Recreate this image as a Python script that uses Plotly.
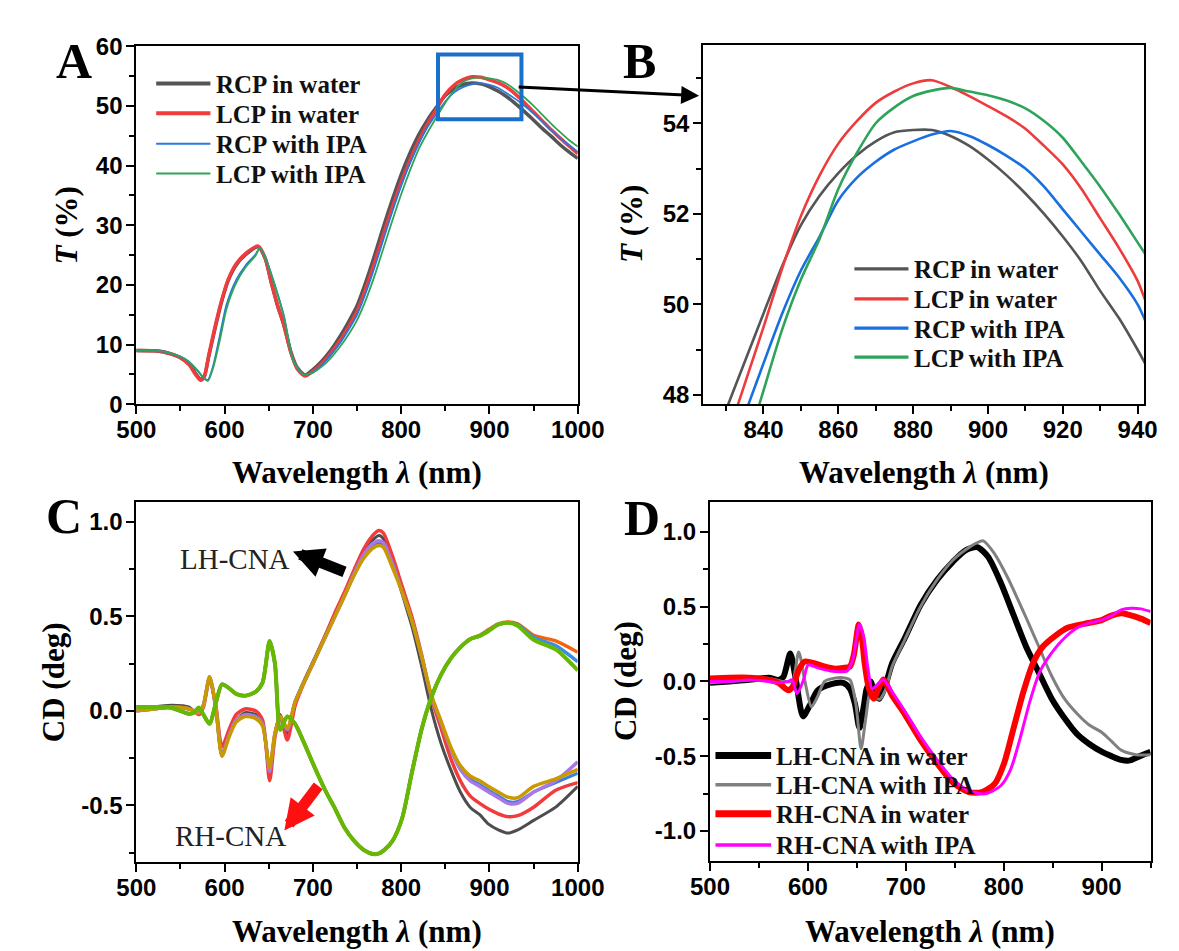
import plotly.graph_objects as go

W, H = 1179, 951

# ---------------- Panel A : transmission spectra ----------------
wl_a_water = [500, 520, 530, 540, 550, 560, 567, 573, 577, 582, 590, 597, 604, 613, 624, 638, 646, 653, 660, 667,
              675, 682, 691, 700, 710, 720, 730, 740, 750, 760, 770, 780, 790, 800, 810, 820, 830, 840, 850, 860,
              870, 880, 890, 900, 910, 920, 930, 940, 950, 960, 970, 980, 990, 1000]
rcp_water_a = [9.0, 8.95, 8.8, 8.4, 7.8, 6.7, 5.2, 4.2, 4.7, 8.0, 13.2, 17.4, 20.7, 23.3, 25.1, 26.4, 24.4, 20.3, 16.5, 13.3,
               8.8, 6.2, 4.9, 5.8, 7.2, 9.0, 11.2, 13.7, 16.5, 20.5, 25.0, 29.8, 34.3, 38.5, 42.1, 45.2, 47.7, 49.8, 51.75, 52.9,
               53.6, 53.85, 53.7, 53.2, 52.45, 51.5, 50.3, 49.0, 47.6, 46.2, 44.9, 43.5, 42.3, 41.2]
lcp_water_a = [9.0, 8.95, 8.8, 8.4, 7.8, 6.6, 5.0, 4.0, 4.6, 8.2, 13.5, 17.6, 20.9, 23.5, 25.3, 26.5, 24.5, 20.4, 16.6, 13.4,
               8.7, 6.0, 4.75, 5.5, 6.8, 8.5, 10.5, 12.9, 15.6, 19.4, 23.8, 28.5, 33.0, 37.2, 40.9, 44.2, 47.0, 49.5, 51.95, 53.5,
               54.4, 54.88, 54.8, 54.38, 53.88, 53.09, 51.9, 50.5, 49.0, 47.5, 46.0, 44.6, 43.3, 42.0]
wl_a_ipa = [500, 520, 530, 540, 550, 559, 570, 576, 581, 587, 595, 602, 613, 624, 635, 640, 648, 656, 667, 678,
            689, 700, 710, 720, 730, 740, 750, 760, 770, 780, 790, 800, 810, 820, 830, 840, 850, 860, 870, 880,
            890, 900, 910, 920, 930, 940, 950, 960, 970, 980, 990, 1000]
rcp_ipa_a = [9.0, 8.95, 8.85, 8.5, 8.0, 7.2, 5.5, 4.4, 4.1, 6.4, 11.8, 16.6, 20.8, 23.3, 25.1, 26.2, 23.9, 20.4, 14.9, 7.4,
             5.0, 5.4, 6.6, 8.2, 10.1, 12.4, 15.0, 18.7, 23.0, 27.7, 32.3, 36.6, 40.4, 43.7, 46.5, 48.7, 50.75, 52.3, 53.15, 53.6,
             53.83, 53.52, 53.0, 52.1, 51.1, 50.0, 48.7, 47.3, 45.9, 44.6, 43.4, 42.3]
lcp_ipa_a = [9.0, 8.95, 8.85, 8.5, 8.0, 7.2, 5.55, 4.5, 3.9, 6.1, 11.0, 15.9, 20.3, 23.0, 24.9, 26.2, 23.8, 20.3, 14.8, 7.2,
             5.0, 5.3, 6.3, 7.7, 9.5, 11.6, 14.1, 17.5, 21.6, 26.2, 30.8, 35.2, 39.2, 42.8, 45.6, 48.1, 50.55, 52.55, 54.0, 54.6,
             54.78, 54.62, 54.33, 53.68, 52.6, 51.37, 50.0, 48.5, 47.0, 45.6, 44.3, 43.2]

# ---------------- Panel B : zoom of the peak ----------------
wl_b = [828, 832, 836, 840, 845, 850, 855, 860, 865, 870, 875, 880, 885, 890, 895, 900, 905, 910, 915, 920,
        925, 930, 935, 940, 942]
rcp_water_b = [47.25, 48.1, 48.95, 49.8, 50.85, 51.75, 52.4, 52.9, 53.3, 53.6, 53.8, 53.85, 53.85, 53.72, 53.5, 53.2, 52.85,
               52.45, 52.0, 51.5, 50.95, 50.3, 49.7, 49.0, 48.7]
lcp_water_b = [46.5, 47.5, 48.5, 49.5, 50.8, 51.95, 52.85, 53.55, 54.05, 54.45, 54.7, 54.88, 54.95, 54.8, 54.6, 54.38, 54.15,
               53.88, 53.5, 53.09, 52.55, 51.9, 51.25, 50.52, 50.1]
rcp_ipa_b = [46.0, 46.9, 47.8, 48.7, 49.8, 50.75, 51.5, 52.3, 52.8, 53.15, 53.42, 53.6, 53.75, 53.83, 53.72, 53.52, 53.28,
             53.0, 52.6, 52.1, 51.6, 51.1, 50.6, 50.0, 49.65]
lcp_ipa_b = [45.0, 46.0, 47.0, 48.1, 49.45, 50.55, 51.45, 52.55, 53.35, 54.0, 54.35, 54.6, 54.72, 54.78, 54.7, 54.62, 54.5,
             54.33, 54.05, 53.68, 53.15, 52.6, 52.0, 51.37, 51.12]

# ---------------- Panel C : CD spectra of many samples ----------------
wl_c = [500, 520, 540, 560, 565, 571, 576, 583, 590, 597, 605, 613, 623, 635, 643, 651, 657, 663, 671, 680,
        690, 703, 715, 725, 736, 747, 758, 769, 775, 780, 790, 801, 812, 823, 834, 845, 856, 867, 878, 889,
        899, 910, 921, 932, 950, 975, 1000]
lh_gray_c = [0.0, 0.02, 0.03, 0.02, 0.0, -0.01, 0.03, 0.17, 0.01, -0.23, -0.13, -0.05, -0.01, -0.02, -0.07, -0.33, -0.12,
             -0.02, -0.12, 0.05, 0.16, 0.29, 0.41, 0.51, 0.62, 0.74, 0.84, 0.91, 0.928, 0.91, 0.80, 0.62, 0.45, 0.24,
             0.01, -0.17, -0.31, -0.43, -0.51, -0.55, -0.60, -0.63, -0.647, -0.63, -0.58, -0.51, -0.40]
lh_red_c = [0.0, 0.01, 0.02, 0.01, 0.0, -0.02, 0.02, 0.17, 0.03, -0.19, -0.10, -0.02, 0.01, 0.0, -0.05, -0.37, -0.14,
            -0.03, -0.155, 0.03, 0.15, 0.28, 0.41, 0.52, 0.63, 0.75, 0.86, 0.935, 0.955, 0.94, 0.82, 0.66, 0.50, 0.30,
            0.07, -0.09, -0.25, -0.37, -0.45, -0.49, -0.52, -0.545, -0.56, -0.555, -0.51, -0.42, -0.38]
lh_blue_c = [0.0, 0.01, 0.02, 0.01, 0.0, -0.01, 0.03, 0.18, 0.02, -0.24, -0.13, -0.05, -0.02, -0.03, -0.07, -0.31, -0.12,
             -0.03, -0.10, 0.05, 0.15, 0.28, 0.40, 0.50, 0.61, 0.72, 0.82, 0.88, 0.89, 0.88, 0.78, 0.63, 0.48, 0.29,
             0.08, -0.06, -0.20, -0.31, -0.36, -0.39, -0.42, -0.45, -0.48, -0.48, -0.43, -0.38, -0.33]
lh_purple_c = [0.0, 0.01, 0.02, 0.01, 0.0, -0.01, 0.03, 0.18, 0.02, -0.23, -0.13, -0.05, -0.02, -0.03, -0.07, -0.32, -0.12,
               -0.03, -0.10, 0.05, 0.15, 0.28, 0.40, 0.50, 0.61, 0.73, 0.83, 0.89, 0.90, 0.89, 0.78, 0.63, 0.48, 0.29,
               0.08, -0.06, -0.20, -0.31, -0.37, -0.40, -0.43, -0.46, -0.49, -0.49, -0.43, -0.37, -0.27]
lh_gold_c = [0.0, 0.01, 0.02, 0.01, 0.0, -0.01, 0.03, 0.18, 0.02, -0.24, -0.14, -0.06, -0.03, -0.04, -0.08, -0.30, -0.12,
             -0.03, -0.09, 0.05, 0.15, 0.28, 0.40, 0.50, 0.61, 0.72, 0.81, 0.865, 0.875, 0.865, 0.76, 0.63, 0.48, 0.29,
             0.086, -0.052, -0.19, -0.29, -0.345, -0.37, -0.40, -0.43, -0.457, -0.46, -0.40, -0.36, -0.31]
rh_orange_c = [0.02, 0.02, 0.015, -0.016, -0.01, 0.017, -0.02, -0.069, 0.04, 0.14, 0.12, 0.09, 0.08, 0.10, 0.15, 0.37, 0.25,
               -0.10, -0.03, -0.07, -0.17, -0.31, -0.43, -0.517, -0.62, -0.69, -0.738, -0.759, -0.755, -0.74, -0.69,
               -0.57, -0.33, -0.10, 0.069, 0.19, 0.276, 0.336, 0.38, 0.40, 0.43, 0.46, 0.47, 0.46, 0.40, 0.37, 0.31]
rh_blue_c = [0.02, 0.02, 0.015, -0.016, -0.01, 0.017, -0.02, -0.069, 0.04, 0.14, 0.12, 0.09, 0.08, 0.10, 0.15, 0.37, 0.25,
             -0.10, -0.03, -0.07, -0.17, -0.31, -0.43, -0.517, -0.62, -0.69, -0.738, -0.759, -0.755, -0.74, -0.69,
             -0.57, -0.33, -0.10, 0.069, 0.19, 0.276, 0.336, 0.379, 0.397, 0.425, 0.457, 0.466, 0.455, 0.39, 0.345, 0.26]
rh_green_c = [0.02, 0.02, 0.015, -0.016, -0.01, 0.017, -0.02, -0.069, 0.04, 0.14, 0.12, 0.09, 0.08, 0.10, 0.15, 0.37, 0.25,
              -0.10, -0.03, -0.07, -0.17, -0.31, -0.43, -0.517, -0.62, -0.69, -0.738, -0.759, -0.755, -0.74, -0.69,
              -0.57, -0.33, -0.10, 0.069, 0.19, 0.276, 0.336, 0.379, 0.397, 0.423, 0.457, 0.466, 0.45, 0.376, 0.325, 0.214]

# ---------------- Panel D : CD in water / with IPA ----------------
wl_d_lh_water = [500, 520, 540, 560, 570, 575, 582, 588, 595, 602, 610, 623, 636, 643, 648, 652.6, 657, 660, 664, 668,
                 673, 679, 686, 699, 715, 732, 748, 761, 773, 784, 797, 810, 823, 836, 849, 862, 875, 887, 900, 910,
                 920, 928, 939, 950]
cd_lh_water = [-0.01, 0.0, 0.01, 0.025, 0.01, 0.03, 0.186, 0.0, -0.234, -0.16, -0.06, -0.02, -0.01, -0.05, -0.15, -0.31,
               -0.17, -0.05, 0.0, -0.08, -0.116, -0.03, 0.12, 0.29, 0.51, 0.68, 0.80, 0.877, 0.898, 0.834, 0.66, 0.445,
               0.23, 0.057, -0.116, -0.245, -0.353, -0.417, -0.47, -0.50, -0.525, -0.53, -0.50, -0.47]
wl_d_lh_ipa = [500, 520, 540, 560, 575, 584, 590.6, 597, 603.6, 610, 617, 626, 636, 643, 649, 654.3, 659, 664, 668, 673,
               679, 686, 699, 715, 732, 748, 761, 772, 779, 790, 803.6, 823, 836, 849, 862, 875.5, 887, 900, 910, 920,
               935, 950]
cd_lh_ipa = [-0.01, 0.0, 0.01, 0.02, 0.0, 0.0, 0.197, 0.0, -0.17, -0.10, 0.0, 0.02, 0.025, 0.01, -0.15, -0.45, -0.25,
             -0.05, -0.10, -0.12, -0.06, 0.10, 0.28, 0.50, 0.68, 0.81, 0.88, 0.925, 0.94, 0.86, 0.70, 0.424, 0.23,
             0.036, -0.116, -0.22, -0.29, -0.34, -0.40, -0.46, -0.49, -0.49]
wl_d_rh_water = [500, 520, 540, 560, 570, 580, 585, 590.6, 597, 607, 616.7, 628, 636, 643, 647, 652, 655, 658, 662.4, 667.3,
                 672, 677, 686, 699, 715.4, 731.8, 748, 764.4, 777.5, 790.6, 800.4, 810.2, 820, 829.8, 839.6, 852.6,
                 865.7, 882, 890, 900, 910, 920, 928, 940, 950]
cd_rh_water = [0.02, 0.025, 0.025, 0.01, -0.01, -0.06, -0.03, 0.078, 0.133, 0.12, 0.10, 0.085, 0.09, 0.10, 0.18, 0.38,
               0.30, 0.12, -0.05, -0.116, -0.05, 0.013, -0.094, -0.22, -0.396, -0.547, -0.676, -0.741, -0.741, -0.687,
               -0.547, -0.31, -0.072, 0.12, 0.23, 0.305, 0.36, 0.385, 0.395, 0.41, 0.44, 0.456, 0.445, 0.42, 0.39]
wl_d_rh_ipa = [500, 520, 540, 560, 570, 580, 584, 588.9, 595, 600.4, 610, 623, 632, 640, 646, 652.6, 657, 661, 665.7, 671,
               677, 686, 699, 715, 732, 748, 764, 780.8, 797, 807, 817, 826.6, 836.4, 846.2, 859.3, 875.5, 887, 900,
               910, 920, 930, 940, 950]
cd_rh_ipa = [0.0, 0.0, 0.01, 0.0, -0.01, 0.0, 0.01, -0.083, 0.0, 0.11, 0.09, 0.07, 0.065, 0.07, 0.15, 0.38, 0.30, 0.10,
             -0.05, -0.02, 0.013, -0.07, -0.2, -0.37, -0.525, -0.654, -0.73, -0.752, -0.698, -0.59, -0.375, -0.137,
             0.057, 0.165, 0.272, 0.36, 0.39, 0.41, 0.44, 0.478, 0.489, 0.485, 0.467]

# tick labels
cd_c_tickvals = [-0.5, 0.0, 0.5, 1.0]
cd_c_ticktext = ["-0.5", "0.0", "0.5", "1.0"]
cd_d_tickvals = [-1.0, -0.5, 0.0, 0.5, 1.0]
cd_d_ticktext = ["-1.0", "-0.5", "0.0", "0.5", "1.0"]

# legend labels
legend_ab = ["RCP in water", "LCP in water", "RCP with IPA", "LCP with IPA"]
legend_d = ["LH-CNA in water", "LH-CNA with IPA", "RH-CNA in water", "RH-CNA with IPA"]

# ---------------- styling ----------------
TICK_FONT = "Liberation Sans, Arial, sans-serif"
SERIF = "Liberation Serif, Times New Roman, serif"


def px(x):
    return x / W


def py(y):
    return 1 - y / H


def axis(domain, rng, dtick, minor, tick0=0, xaxis=False, **kw):
    d = dict(domain=domain, range=rng, dtick=dtick, tick0=tick0, ticks="outside", ticklen=8, tickwidth=2,
             tickcolor="black", showline=True, linewidth=2, linecolor="black", mirror=True, showgrid=False,
             zeroline=False, tickfont=dict(family=TICK_FONT, size=24, color="black", weight="bold"),
             minor=dict(dtick=minor, tick0=tick0, ticks="outside", ticklen=5, tickwidth=2, tickcolor="black",
                        showgrid=False))
    if xaxis:
        d["ticklabelstandoff"] = -5
    else:
        d["ticklabelstandoff"] = -1
    d.update(kw)
    return d


fig = go.Figure()
SM = 0.7


def line(x, y, color, width, xa, ya):
    fig.add_trace(go.Scatter(x=x, y=y, mode="lines", line=dict(color=color, width=width, shape="spline", smoothing=SM),
                             xaxis=xa, yaxis=ya, showlegend=False, hoverinfo="skip"))


colA = ["#555555", "#f03c3c", "#2878e0", "#2ea45a"]
# Panel A
line(wl_a_water, rcp_water_a, colA[0], 3.5, "x", "y")
line(wl_a_water, lcp_water_a, colA[1], 3.5, "x", "y")
line(wl_a_ipa, rcp_ipa_a, colA[2], 1.8, "x", "y")
line(wl_a_ipa, lcp_ipa_a, colA[3], 1.8, "x", "y")
# Panel B
colB = ["#555555", "#ee3b3b", "#1a6fe0", "#2ea45a"]
line(wl_b, rcp_water_b, colB[0], 2.6, "x2", "y2")
line(wl_b, lcp_water_b, colB[1], 2.6, "x2", "y2")
line(wl_b, rcp_ipa_b, colB[2], 2.6, "x2", "y2")
line(wl_b, lcp_ipa_b, colB[3], 2.6, "x2", "y2")
# Panel C
line(wl_c, lh_gray_c, "#4d4d4d", 3, "x3", "y3")
line(wl_c, lh_red_c, "#f23b3b", 3.5, "x3", "y3")
line(wl_c, lh_blue_c, "#3d7de0", 3, "x3", "y3")
line(wl_c, lh_purple_c, "#a978e8", 3.5, "x3", "y3")
line(wl_c, lh_gold_c, "#c99a00", 3.5, "x3", "y3")
line(wl_c, rh_orange_c, "#f5640a", 3.5, "x3", "y3")
line(wl_c, rh_blue_c, "#3b8fe0", 3.5, "x3", "y3")
line(wl_c, rh_green_c, "#66b800", 4, "x3", "y3")
# Panel D
colD = ["#000000", "#808080", "#ff0000", "#ff00ff"]
wD = [6, 3, 6, 3]
line(wl_d_lh_water, cd_lh_water, colD[0], wD[0], "x4", "y4")
line(wl_d_lh_ipa, cd_lh_ipa, colD[1], wD[1], "x4", "y4")
line(wl_d_rh_water, cd_rh_water, colD[2], wD[2], "x4", "y4")
line(wl_d_rh_ipa, cd_rh_ipa, colD[3], wD[3], "x4", "y4")

dxA = [px(112.8), px(572.6)]
dxB = [px(703.3), px(1162.3)]
dxD = [px(710.3), px(1169.2)]
dyTop = [py(393.4), py(25)]
dyBot = [py(864.5), py(494.5)]

fig.update_layout(
    width=W, height=H, margin=dict(l=0, r=0, t=0, b=0), plot_bgcolor="white", paper_bgcolor="white",
    xaxis=axis(dxA, [500, 1000], 100, 50, xaxis=True, anchor="y"),
    yaxis=axis(dyTop, [0, 60], 10, 5, anchor="x"),
    xaxis2=axis(dxB, [823.9, 941.7], 20, 10, tick0=840, xaxis=True, anchor="y2"),
    yaxis2=axis([py(393.3), py(24)], [47.8, 55.72], 2, 1, tick0=48, anchor="x2"),
    xaxis3=axis(dxA, [500, 1000], 100, 50, xaxis=True, anchor="y3"),
    yaxis3=axis(dyBot, [-0.80, 1.103], 0.5, 0.25, anchor="x3", tickmode="array", tickvals=cd_c_tickvals,
                ticktext=cd_c_ticktext),
    xaxis4=axis(dxD, [500, 950], 100, 50, xaxis=True, anchor="y4"),
    yaxis4=axis([py(863.3), py(494)], [-1.2, 1.2], 0.5, 0.25, anchor="x4", tickmode="array",
                tickvals=cd_d_tickvals, ticktext=cd_d_ticktext),
)

ann = []
shapes = []


def text(x, y, s, size, bold=True, angle=0, anchor="center", family=SERIF, color="black"):
    ann.append(dict(x=px(x), y=py(y), xref="paper", yref="paper", text=s, showarrow=False, textangle=angle,
                    xanchor=anchor, yanchor="middle",
                    font=dict(family=family, size=size, color=color, weight="bold" if bold else "normal")))


# panel letters
text(48, 40, "A", 50)
text(637, 40, "B", 50)
text(38, 508, "C", 50)
text(640, 510, "D", 50)

# axis titles
XT = "Wavelength <i>λ</i> (nm)"
text(342.7, 464, XT, 31)
text(932.8, 464, XT, 31)
text(342.7, 936, XT, 31)
text(939.6, 936, XT, 31)
text(40, 209, "<i>T</i> (%)", 31, angle=-90)
text(628, 208, "<i>T</i> (%)", 31, angle=-90)
text(26.5, 679, "CD (deg)", 31, angle=-90)
text(623, 678, "CD (deg)", 31, angle=-90)

# legends (drawn manually)
def legend(x0, x1, xt, ys, names, colors, widths, size=25):
    for yy, n, c, w in zip(ys, names, colors, widths):
        shapes.append(dict(type="line", xref="paper", yref="paper", x0=px(x0), x1=px(x1), y0=py(yy), y1=py(yy),
                           line=dict(color=c, width=w)))
        text(xt, yy + 1, n, size, anchor="left", color="#111111")


legend(133.5, 190, 194, [63.3, 94, 125.3, 156], legend_ab, colA, [4, 4, 2, 2])
legend(860.7, 917, 921, [254, 285, 315, 345], legend_ab, colB, [3.2, 3.2, 3.2, 3.2])
legend(716, 774, 777, [755, 785, 815, 847], legend_d, colD, [7, 3.5, 7, 3.5])

# blue zoom box on panel A + arrow to panel B
shapes.append(dict(type="rect", xref="x", yref="y", x0=841.7, x1=936.2, y0=47.75, y1=58.64,
                   line=dict(color="#1a70c8", width=4)))
ann.append(dict(x=px(699), y=py(76), xref="paper", yref="paper", ax=517 - 699, ay=67 - 76, axref="pixel",
                ayref="pixel", showarrow=True, arrowhead=2, arrowsize=1.2, arrowwidth=3, arrowcolor="black", text=""))

# panel C labels and block arrows
text(215.5, 553, "LH-CNA", 29, bold=False, color="#222222")
text(210.5, 838, "RH-CNA", 29, bold=False, color="#222222")
ann.append(dict(x=px(276), y=py(545), xref="paper", yref="paper", ax=329 - 276, ay=566 - 545, showarrow=True,
                arrowhead=2, arrowsize=0.55, arrowwidth=11, arrowcolor="black", text=""))
ann.append(dict(x=px(267), y=py(832), xref="paper", yref="paper", ax=302 - 267, ay=786 - 832, showarrow=True,
                arrowhead=2, arrowsize=0.55, arrowwidth=11, arrowcolor="#ff1010", text=""))

fig.update_layout(annotations=ann, shapes=shapes)
fig.write_html("out.html")
